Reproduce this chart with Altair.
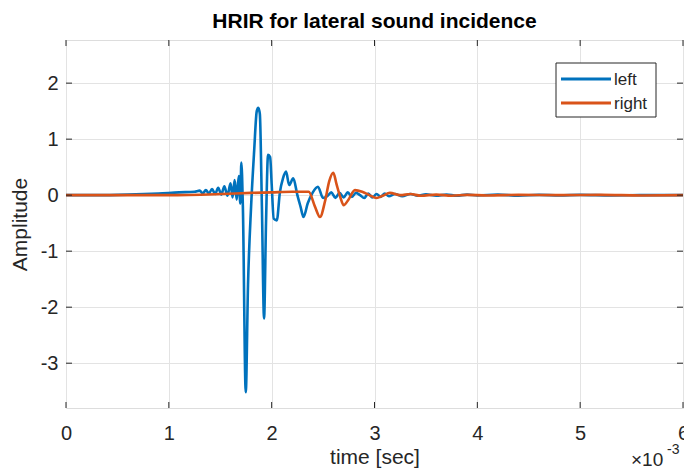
import altair as alt
import pandas as pd

# ---- data (time in units of 1e-3 s, amplitude) ----
left_t = [0.0, 0.3, 0.6, 0.9, 1.1, 1.25, 1.30, 1.33, 1.36, 1.39, 1.42, 1.45, 1.48, 1.51, 1.54,
          1.57, 1.60, 1.62, 1.64, 1.66, 1.68, 1.695, 1.705, 1.72, 1.748, 1.77, 1.80, 1.83,
          1.855, 1.87, 1.885, 1.905, 1.926, 1.945, 1.965, 1.985, 2.0, 2.02, 2.05, 2.08, 2.11,
          2.14, 2.17, 2.21, 2.25, 2.28, 2.31, 2.35, 2.40, 2.45, 2.50, 2.54, 2.58, 2.62, 2.66,
          2.70, 2.74, 2.78, 2.82, 2.86, 2.90, 2.94, 2.98, 3.02, 3.06, 3.10, 3.14, 3.2, 3.27,
          3.35, 3.42, 3.5, 3.6, 3.7, 3.8, 3.9, 4.0, 4.2, 4.4, 4.6, 4.8, 5.0, 5.3, 5.6, 6.0]
left_a = [0.0, 0.0, 0.01, 0.03, 0.05, 0.06, 0.08, 0.03, 0.09, 0.03, 0.11, 0.02, 0.13, 0.01, 0.16,
          -0.01, 0.21, -0.04, 0.27, -0.08, 0.34, -0.15, 0.58, -0.2, -3.52, -1.6, -0.2, 0.8,
          1.5, 1.56, 1.45, -0.2, -2.2, -0.5, 0.72, 0.68, 0.2, -0.42, -0.45, 0.05, 0.3,
          0.42, 0.18, 0.3, 0.0, -0.2, -0.39, -0.15, 0.05, 0.15, -0.05, -0.02, 0.05, -0.05, 0.04,
          -0.04, 0.05, -0.03, 0.04, 0.0, -0.05, 0.03, -0.04, 0.02, -0.03, 0.03, -0.02, 0.02, -0.02,
          0.02, -0.01, 0.015, -0.01, 0.01, -0.01, 0.01, -0.005, 0.01, -0.01, 0.005, -0.005, 0.005, -0.005, 0.0, 0.0]

right_t = [0.0, 1.0, 1.5, 1.8, 2.0, 2.2, 2.36, 2.42, 2.47, 2.52, 2.56, 2.60, 2.63, 2.67, 2.70,
           2.74, 2.81, 2.88, 2.95, 3.02, 3.08, 3.15, 3.25, 3.35, 3.45, 3.6, 3.75, 3.9, 4.1,
           4.4, 4.8, 5.2, 5.6, 6.0]
right_a = [0.0, 0.0, 0.02, 0.04, 0.05, 0.06, 0.06, -0.2, -0.39, -0.1, 0.25, 0.4, 0.2, -0.05, -0.18,
           -0.1, 0.09, 0.06, 0.0, -0.05, -0.01, 0.04, 0.0, 0.02, -0.01, 0.01, -0.01, 0.005, -0.005,
           0.005, 0.0, 0.005, -0.005, 0.0]

series_names = ["left", "right"]
series_colors = ["#0072BD", "#D95319"]
x_ticks = [0, 1, 2, 3, 4, 5, 6]
y_ticks = [-3, -2, -1, 0, 1, 2]
title_text = "HRIR for lateral sound incidence"

W, H = 617, 368
FONT = "Liberation Sans"
INK = "#262626"

df = pd.concat([
    pd.DataFrame({"t": left_t, "a": left_a, "ch": series_names[0]}),
    pd.DataFrame({"t": right_t, "a": right_a, "ch": series_names[1]}),
], ignore_index=True)

xs = alt.Scale(domain=[0, 6], nice=False, zero=False)
ys = alt.Scale(domain=[-3.8, 2.77], nice=False, zero=False)
cs = alt.Scale(domain=series_names, range=series_colors)
axis_style = dict(grid=True, gridColor="#e3e3e3", gridWidth=1, domain=False, ticks=False,
                  labelFont=FONT, labelFontSize=20, labelColor=INK, labelFlush=False,
                  labelExpr="datum.value + ''",
                  titleFont=FONT, titleFontSize=21, titleColor=INK, titleFontWeight="normal")
xaxis = alt.Axis(values=x_ticks, title="time [sec]", labelPadding=15, titlePadding=3, **axis_style)
yaxis = alt.Axis(values=y_ticks, title="Amplitude", labelPadding=8, titlePadding=10, **axis_style)

lines = alt.Chart(df).mark_line(strokeWidth=2.6, interpolate="monotone").encode(
    x=alt.X("t:Q", scale=xs, axis=xaxis),
    y=alt.Y("a:Q", scale=ys, axis=yaxis),
    color=alt.Color("ch:N", scale=cs, legend=None),
)

xt = pd.DataFrame({"v": x_ticks})
yt = pd.DataFrame({"v": y_ticks})
tick_style = dict(color=INK, strokeWidth=1)
xtick_b = alt.Chart(xt).mark_rule(**tick_style).encode(
    x=alt.X("v:Q", scale=xs, axis=xaxis), y=alt.value(H), y2=alt.value(H - 6))
xtick_t = alt.Chart(xt).mark_rule(**tick_style).encode(
    x=alt.X("v:Q", scale=xs, axis=xaxis), y=alt.value(0), y2=alt.value(6))
ytick_l = alt.Chart(yt).mark_rule(**tick_style).encode(
    y=alt.Y("v:Q", scale=ys, axis=yaxis), x=alt.value(0), x2=alt.value(6))
ytick_r = alt.Chart(yt).mark_rule(**tick_style).encode(
    y=alt.Y("v:Q", scale=ys, axis=yaxis), x=alt.value(W), x2=alt.value(W - 6))

# title
title_mark = alt.Chart(pd.DataFrame({"s": [title_text]})).mark_text(
    font=FONT, fontSize=21, fontWeight="bold", color="#000000", align="center",
    baseline="alphabetic").encode(text="s:N", x=alt.value(W / 2), y=alt.value(-12))

# exponent label
exp_base = alt.Chart(pd.DataFrame({"s": ["\u00d710"]})).mark_text(
    font=FONT, fontSize=19, color=INK, align="left", baseline="alphabetic").encode(
    text="s:N", x=alt.value(W - 52), y=alt.value(H + 58))
exp_pow = alt.Chart(pd.DataFrame({"s": ["-3"]})).mark_text(
    font=FONT, fontSize=14, color=INK, align="left", baseline="alphabetic").encode(
    text="s:N", x=alt.value(W - 16), y=alt.value(H + 46))

# legend
lx, ly = 490, 23
leg_box = alt.Chart(pd.DataFrame({"k": [0]})).mark_rect(
    fill="white", stroke=INK, strokeWidth=1).encode(
    x=alt.value(lx), x2=alt.value(lx + 100), y=alt.value(ly), y2=alt.value(ly + 54))
leg_parts = []
for i, name in enumerate(series_names):
    d = pd.DataFrame({"ch": [name]})
    yy = ly + 16 + 24 * i
    leg_parts.append(alt.Chart(d).mark_rule(strokeWidth=3).encode(
        x=alt.value(lx + 5), x2=alt.value(lx + 55), y=alt.value(yy),
        color=alt.Color("ch:N", scale=cs, legend=None)))
    leg_parts.append(alt.Chart(d).mark_text(
        font=FONT, fontSize=17, color=INK, align="left", baseline="middle").encode(
        text="ch:N", x=alt.value(lx + 58), y=alt.value(yy + 1)))

chart = alt.layer(
    lines, xtick_b, xtick_t, ytick_l, ytick_r, title_mark, exp_base, exp_pow, leg_box, *leg_parts
).properties(
    width=W, height=H,
    padding={"left": 66, "top": 40, "right": 1, "bottom": 63},
    autosize=alt.AutoSizeParams(type="none"),
).configure_view(
    stroke=INK, strokeWidth=1
).configure(background="white")

chart.save("out.html", embed_options={"renderer": "svg", "actions": False})
